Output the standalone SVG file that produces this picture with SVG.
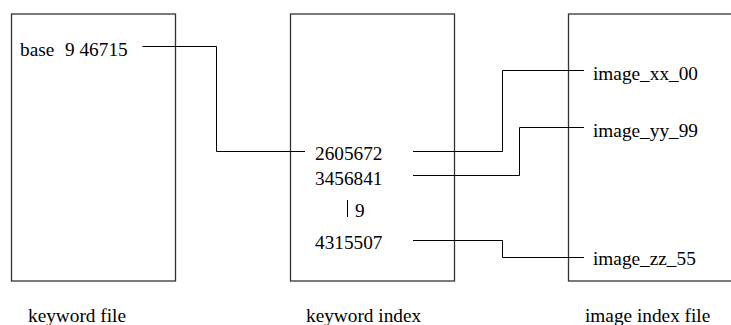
<svg xmlns="http://www.w3.org/2000/svg" width="731" height="325" viewBox="0 0 731 325">
<style>
.box{fill:none;stroke:#333;stroke-width:1.3}
.conn{fill:none;stroke:#000;stroke-width:1}
.t{font-family:'Liberation Serif','Times New Roman',Tinos,'Nimbus Roman','DejaVu Serif',serif;font-size:19.3px;fill:#000}
</style>
<rect width="731" height="325" fill="#fff"/>
<g id="keyword-file">
<rect class="box" x="11.5" y="14" width="164" height="267"/>
<text class="t" font-family="Liberation Serif, serif" x="20" y="56">base<tspan x="65">9 46715</tspan></text>
<text class="t" x="28" y="322">keyword file</text>
</g>
<g id="keyword-index">
<rect class="box" x="290.5" y="14" width="164" height="267"/>
<text class="t" x="315" y="160">2605672</text>
<text class="t" x="315" y="185">3456841</text>
<line class="conn" x1="347.5" y1="200" x2="347.5" y2="217"/>
<text class="t" x="355" y="217">9</text>
<text class="t" x="315" y="249">4315507</text>
<text class="t" x="306" y="322">keyword index</text>
</g>
<g id="image-index-file">
<rect class="box" x="568.5" y="14" width="200" height="267"/>
<text class="t" x="593" y="80">image_xx_00</text>
<text class="t" x="593" y="137">image_yy_99</text>
<text class="t" x="593" y="265">image_zz_55</text>
<text class="t" x="585" y="322">image index file</text>
</g>
<g id="connectors">
<polyline class="conn" points="142.5,46.5 216.5,46.5 216.5,151.5 305,151.5"/>
<polyline class="conn" points="413,151.5 502.5,151.5 502.5,70.5 584,70.5"/>
<polyline class="conn" points="413,175.5 519.5,175.5 519.5,127.5 584,127.5"/>
<polyline class="conn" points="413,240.5 502.5,240.5 502.5,257.5 584,257.5"/>
</g>
</svg>
